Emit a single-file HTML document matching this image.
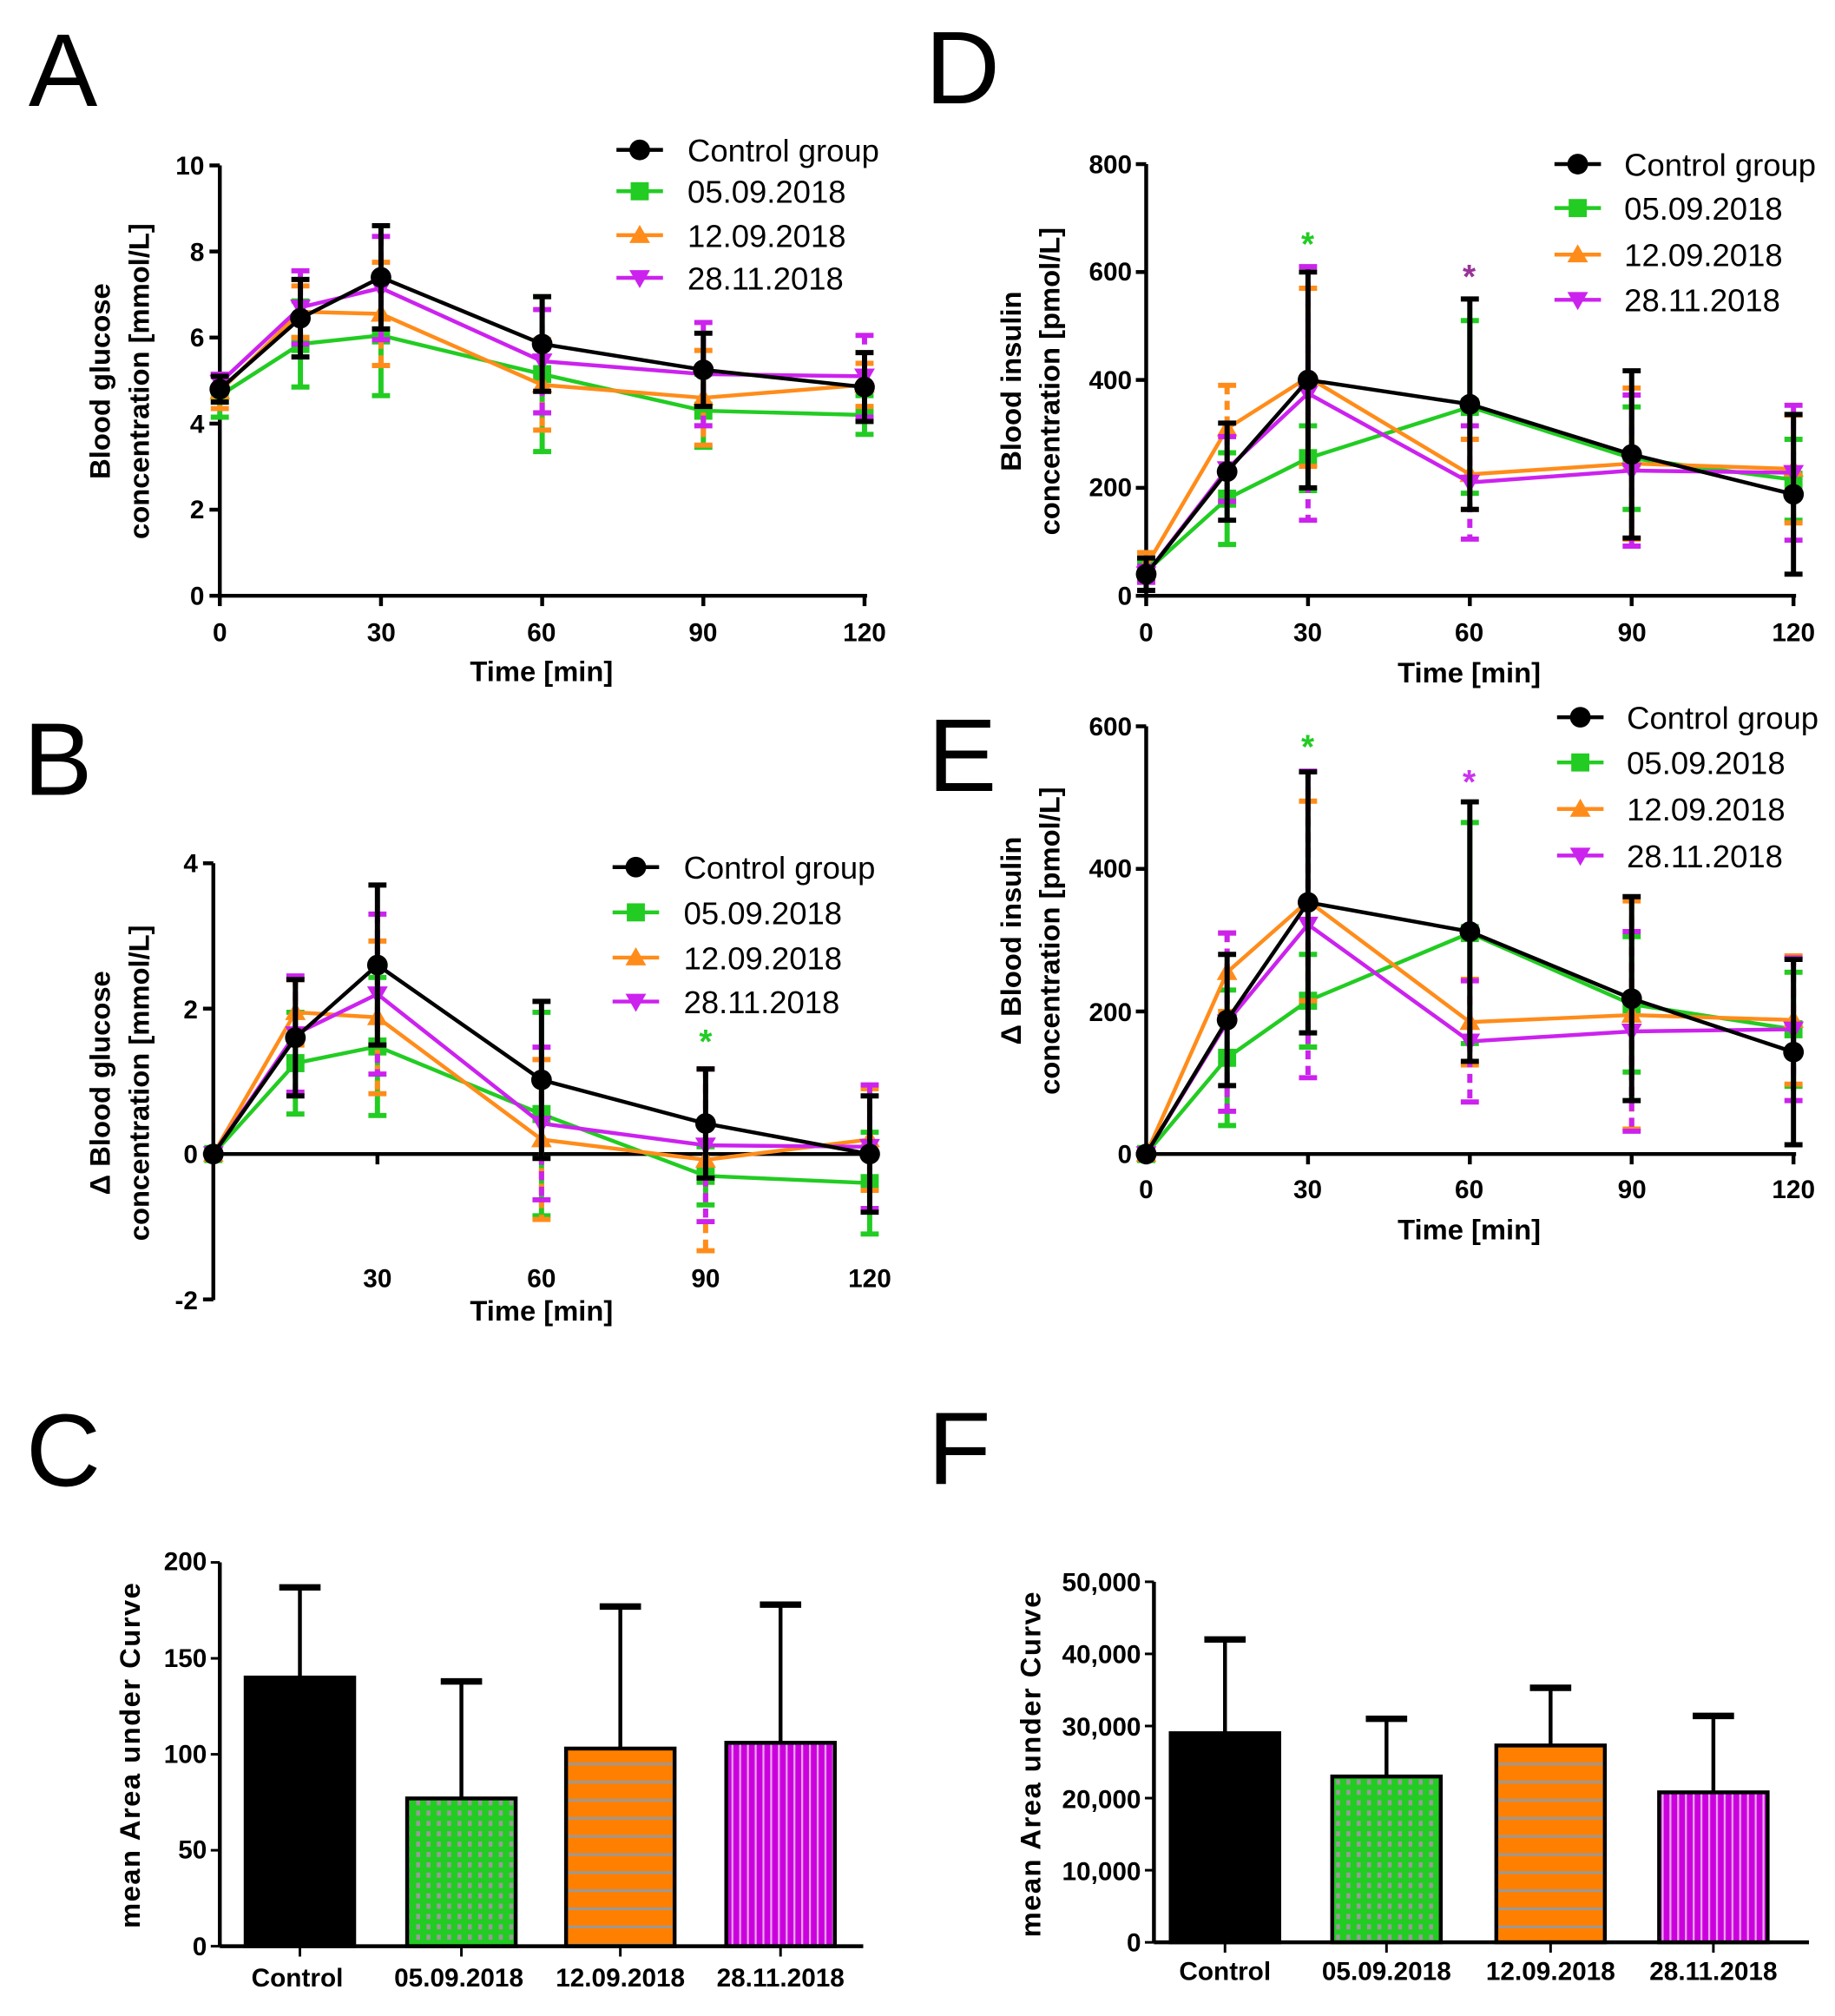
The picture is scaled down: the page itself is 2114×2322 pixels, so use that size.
<!DOCTYPE html>
<html><head><meta charset="utf-8"><style>
html,body{margin:0;padding:0;background:#fff}
svg{display:block}
text{font-family:"Liberation Sans",sans-serif}
.t{font-size:20px;font-weight:bold}
.lg{font-size:24.5px}
.ax{font-size:22px;font-weight:bold}
.L{font-size:80px}
</style></head><body>
<svg id="s" width="2114" height="2322" viewBox="0 0 1420 1560" xmlns="http://www.w3.org/2000/svg">
<defs>
<pattern id="pg" width="8" height="8" patternUnits="userSpaceOnUse"><rect width="8" height="8" fill="#22cc22"/><rect x="2" y="1" width="3" height="4" fill="#9a9a9a"/></pattern>
<pattern id="po" width="10" height="14" patternUnits="userSpaceOnUse"><rect width="10" height="14" fill="#ff8000"/><rect y="6" width="10" height="2" fill="#999"/></pattern>
<pattern id="pm" width="6" height="10" patternUnits="userSpaceOnUse"><rect width="6" height="10" fill="#cc00dd"/><rect x="2" width="1.5" height="10" fill="#e8a8f0"/></pattern>
</defs>
<g fill="#000">
<text class="L" x="22" y="82">A</text><text class="L" x="18" y="615">B</text><text class="L" x="20" y="1150">C</text>
<text class="L" x="716" y="80">D</text><text class="L" x="718" y="612">E</text><text class="L" x="718" y="1148">F</text>
</g>
<g class="t" text-anchor="end">
<text x="158" y="135">10</text><text x="158" y="202">8</text><text x="158" y="268">6</text><text x="158" y="335">4</text><text x="158" y="401">2</text><text x="158" y="468">0</text>
</g>
<g class="t" text-anchor="middle">
<text x="170" y="496">0</text><text x="295" y="496">30</text><text x="419" y="496">60</text><text x="544" y="496">90</text><text x="669" y="496">120</text>
</g>
<text class="ax" x="419" y="527" text-anchor="middle">Time [min]</text>
<text class="ax" transform="translate(85,295) rotate(-90)" text-anchor="middle">Blood glucose</text>
<text class="ax" transform="translate(115,295) rotate(-90)" text-anchor="middle">concentration [mmol/L]</text>
<g class="t" text-anchor="end">
<text x="153" y="675">4</text><text x="153" y="788">2</text><text x="153" y="900">0</text><text x="153" y="1013">-2</text>
</g>
<g class="t" text-anchor="middle">
<text x="292" y="996">30</text><text x="419" y="996">60</text><text x="546" y="996">90</text><text x="673" y="996">120</text>
</g>
<text class="ax" x="419" y="1022" text-anchor="middle">Time [min]</text>
<text class="ax" transform="translate(85,838) rotate(-90)" text-anchor="middle">Δ Blood glucose</text>
<text class="ax" transform="translate(115,838) rotate(-90)" text-anchor="middle">concentration [mmol/L]</text>
<g class="t" text-anchor="end">
<text x="876" y="134">800</text><text x="876" y="217">600</text><text x="876" y="301">400</text><text x="876" y="384">200</text><text x="876" y="468">0</text>
</g>
<g class="t" text-anchor="middle">
<text x="887" y="496">0</text><text x="1012" y="496">30</text><text x="1137" y="496">60</text><text x="1263" y="496">90</text><text x="1388" y="496">120</text>
</g>
<text class="ax" x="1137" y="528" text-anchor="middle">Time [min]</text>
<text class="ax" transform="translate(790,295) rotate(-90)" text-anchor="middle">Blood insulin</text>
<text class="ax" transform="translate(820,295) rotate(-90)" text-anchor="middle">concentration [pmol/L]</text>
<g class="t" text-anchor="end">
<text x="876" y="569">600</text><text x="876" y="679">400</text><text x="876" y="790">200</text><text x="876" y="900">0</text>
</g>
<g class="t" text-anchor="middle">
<text x="887" y="927">0</text><text x="1012" y="927">30</text><text x="1137" y="927">60</text><text x="1263" y="927">90</text><text x="1388" y="927">120</text>
</g>
<text class="ax" x="1137" y="959" text-anchor="middle">Time [min]</text>
<text class="ax" transform="translate(790,728) rotate(-90)" text-anchor="middle">Δ Blood insulin</text>
<text class="ax" transform="translate(820,728) rotate(-90)" text-anchor="middle">concentration [pmol/L]</text>
<g font-size="26" font-weight="bold" text-anchor="middle">
<text x="546" y="815" fill="#22cc22">*</text>
<text x="1012" y="198" fill="#22cc22">*</text><text x="1137" y="223" fill="#993399">*</text>
<text x="1012" y="587" fill="#22cc22">*</text><text x="1137" y="614" fill="#cc33ee">*</text>
</g>
<g class="lg">
<text x="532" y="125">Control group</text><text x="532" y="157">05.09.2018</text><text x="532" y="191">12.09.2018</text><text x="532" y="224">28.11.2018</text>
<text x="529" y="680">Control group</text><text x="529" y="715">05.09.2018</text><text x="529" y="750">12.09.2018</text><text x="529" y="784">28.11.2018</text>
<text x="1257" y="136">Control group</text><text x="1257" y="170">05.09.2018</text><text x="1257" y="206">12.09.2018</text><text x="1257" y="241">28.11.2018</text>
<text x="1259" y="564">Control group</text><text x="1259" y="599">05.09.2018</text><text x="1259" y="635">12.09.2018</text><text x="1259" y="671">28.11.2018</text>
</g>
<g class="t" text-anchor="end" font-size="18">
<text x="160" y="1215">200</text><text x="160" y="1290">150</text><text x="160" y="1364">100</text><text x="160" y="1438">50</text><text x="160" y="1513">0</text>
</g>
<g class="t" text-anchor="middle" font-size="19">
<text x="230" y="1537">Control</text><text x="355" y="1537">05.09.2018</text><text x="480" y="1537">12.09.2018</text><text x="604" y="1537">28.11.2018</text>
</g>
<text class="ax" font-size="20" transform="translate(108,1358) rotate(-90)" text-anchor="middle" letter-spacing="1">mean Area under Curve</text>
<g class="t" text-anchor="end" font-size="18">
<text x="883" y="1231">50,000</text><text x="883" y="1287">40,000</text><text x="883" y="1343">30,000</text><text x="883" y="1399">20,000</text><text x="883" y="1455">10,000</text><text x="883" y="1510">0</text>
</g>
<g class="t" text-anchor="middle" font-size="19">
<text x="948" y="1532">Control</text><text x="1073" y="1532">05.09.2018</text><text x="1200" y="1532">12.09.2018</text><text x="1326" y="1532">28.11.2018</text>
</g>
<text class="ax" font-size="20" transform="translate(805,1365) rotate(-90)" text-anchor="middle" letter-spacing="1">mean Area under Curve</text>
<g id="dyn"></g>
</svg>
<script>
var NS="http://www.w3.org/2000/svg",g=document.getElementById("dyn");
function el(t,a){var e=document.createElementNS(NS,t);for(var k in a)e.setAttribute(k,a[k]);g.appendChild(e);return e;}
function line(x1,y1,x2,y2,c,w){el("line",{x1:x1,y1:y1,x2:x2,y2:y2,stroke:c,"stroke-width":w||3});}
var C=["#000","#22cc22","#ff8c1a","#cc22ee"];
function marker(i,x,y){
 if(i==0)el("circle",{cx:x,cy:y,r:8,fill:C[0]});
 else if(i==1)el("rect",{x:x-7,y:y-7,width:14,height:14,fill:C[1]});
 else if(i==2)el("polygon",{points:(x-8)+","+(y+6)+" "+(x+8)+","+(y+6)+" "+x+","+(y-8),fill:C[2]});
 else el("polygon",{points:(x-8)+","+(y-6)+" "+(x+8)+","+(y-6)+" "+x+","+(y+8),fill:C[3]});
}
var T=[0,15,30,60,90,120];
function panel(P){
 var X=function(t){return P.x0+(P.x1-P.x0)*t/120},Y=function(v){return P.y0+(P.y1-P.y0)*(v-P.v0)/(P.v1-P.v0)};
 line(P.x0,P.yt,P.x0,P.yb,"#000",3);
 line(P.x0-2,P.xa,P.x1+2,P.xa,"#000",3);
 P.yt_ticks.forEach(function(v){line(P.x0-8,Y(v),P.x0,Y(v),"#000",3)});
 [0,30,60,90,120].forEach(function(t){line(X(t),P.xa,X(t),P.xa+8,"#000",3)});
 var order=[1,2,3,0];
 order.forEach(function(i){
  var d=P.d[i],e=P.e[i],pts=[];
  for(var k=0;k<6;k++){var x=X(T[k]),y=Y(d[k]);pts.push(x+","+y);
   if(e[k]>0){var a=Y(d[k]+e[k]),b=Y(d[k]-e[k]);
    el("line",{x1:x,y1:a,x2:x,y2:b,stroke:C[i],"stroke-width":4,"stroke-dasharray":i==0||i==1?"":"7,5"});
    line(x-7,a,x+7,a,C[i],4);line(x-7,b,x+7,b,C[i],4);}}
  el("polyline",{points:pts.join(" "),fill:"none",stroke:C[i],"stroke-width":3});
  for(k=0;k<6;k++)marker(i,X(T[k]),Y(d[k]));
 });
 P.leg.ys.forEach(function(y,j){var i=j;line(P.leg.x,y,P.leg.x+36,y,C[i],3);marker(i,P.leg.x+18,y);});
}
panel({x0:170,x1:669,y0:461,y1:128,v0:0,v1:10,yt:128,yb:461,xa:461,yt_ticks:[0,2,4,6,8,10],
 d:[[4.8,6.45,7.4,5.85,5.25,4.85],[4.65,5.85,6.05,5.15,4.3,4.2],[4.75,6.6,6.55,4.9,4.6,4.9],[4.95,6.7,7.15,5.45,5.15,5.1]],
 e:[[0.3,0.9,1.2,1.1,0.85,0.8],[0.5,1.0,1.4,1.8,0.85,0.45],[0.4,0.6,1.2,1.05,1.1,0.5],[0.2,0.85,1.2,1.2,1.2,0.95]],
 leg:{x:477,ys:[116,148,182,215]}});
panel({x0:165,x1:673,y0:893,y1:668,v0:0,v1:4,yt:668,yb:1006,xa:893,yt_ticks:[-2,0,2,4],
 d:[[0,1.6,2.6,1.02,0.42,0],[0,1.25,1.48,0.55,-0.3,-0.4],[0,1.95,1.88,0.2,-0.08,0.2],[0,1.65,2.2,0.42,0.12,0.1]],
 e:[[0,0.8,1.1,1.08,0.75,0.8],[0,0.7,0.95,1.4,0.4,0.7],[0,0.45,1.05,1.1,1.25,0.7],[0,0.8,1.1,1.05,1.05,0.85]],
 leg:{x:474,ys:[671,706,741,775]}});
panel({x0:887,x1:1388,y0:461,y1:127,v0:0,v1:800,yt:127,yb:461,xa:461,yt_ticks:[0,200,400,600,800],
 d:[[40,230,400,355,262,188],[45,180,255,350,255,215],[55,310,405,225,245,235],[40,235,375,210,232,228]],
 e:[[30,90,200,195,155,148],[20,85,60,160,95,75],[25,80,165,65,140,100],[15,60,235,105,140,125]],
 leg:{x:1203,ys:[127,161,197,232]}});
panel({x0:887,x1:1388,y0:893,y1:562,v0:0,v1:600,yt:562,yb:893,xa:893,yt_ticks:[0,200,400,600],
 d:[[0,188,353,312,218,143],[0,135,215,310,210,175],[0,255,355,185,195,188],[0,185,322,158,172,175]],
 e:[[0,92,183,182,143,130],[0,95,65,155,95,80],[0,55,140,60,160,90],[0,125,215,85,140,100]],
 leg:{x:1205,ys:[555,590,626,662]}});
function bars(B){
 var Y=function(v){return B.y0+(B.y1-B.y0)*v/B.vmax};
 var fills=["#000","url(#pg)","url(#po)","url(#pm)"];
 for(var i=0;i<4;i++){var c=B.cx[i],v=B.v[i],e=B.e[i];
  line(c,Y(v),c,Y(e),"#000",3);line(c-16,Y(e),c+16,Y(e),"#000",5);
  el("rect",{x:c-42,y:Y(v),width:84,height:B.y0-Y(v),fill:fills[i],stroke:"#000","stroke-width":3});
  line(c,B.y0,c,B.y0+8,"#000",2);}
 line(B.x0,B.y1,B.x0,B.y0,"#000",3);line(B.x0,B.y0,B.xe,B.y0,"#000",3);
 B.ticks.forEach(function(v){line(B.x0-7,Y(v),B.x0,Y(v),"#000",2)});
}
bars({x0:170,xe:668,y0:1506,y1:1209,vmax:200,cx:[232,357,480,604],v:[140,77,103,106],e:[187,138,177,178],ticks:[0,50,100,150,200]});
bars({x0:893,xe:1400,y0:1503,y1:1224,vmax:50000,cx:[948,1073,1200,1326],v:[29000,23000,27300,20800],e:[42000,31000,35300,31400],ticks:[0,10000,20000,30000,40000,50000]});
</script>
</body></html>
